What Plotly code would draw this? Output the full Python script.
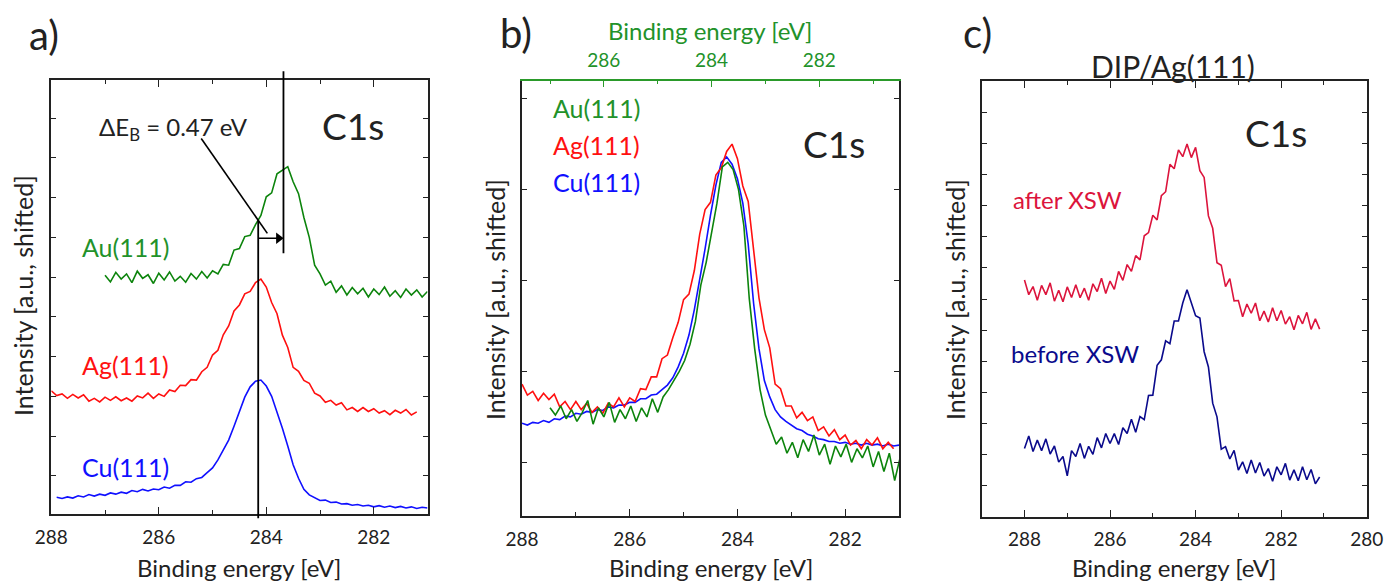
import numpy as np
import plotly.graph_objects as go

# ---------------- data ----------------
# panel a: binding-energy grids start values, step 0.1 eV (decreasing)
a_au_start = 287.0
a_au = [5.05, 4.88, 5.12, 4.95, 5.08, 4.86, 5.15, 4.97, 5.06, 4.84, 5.10, 4.93, 5.13, 4.90, 5.02,
        4.87, 5.09, 4.95, 5.14, 4.98, 5.16, 5.08, 5.32, 5.30, 5.68, 5.72, 6.02, 6.05, 6.32, 6.55,
        7.02, 7.12, 7.60, 7.70, 7.78, 7.40, 7.10, 6.50, 6.00, 5.30, 5.08, 4.80, 4.90, 4.62, 4.78,
        4.55, 4.74, 4.58, 4.72, 4.50, 4.70, 4.56, 4.75, 4.52, 4.66, 4.49, 4.70, 4.55, 4.68, 4.50, 4.64]
a_ag_start = 288.0
a_ag = [2.14, 2.02, 2.06, 1.95, 2.05, 1.96, 2.04, 1.88, 1.95, 1.86, 1.98, 1.90, 1.99, 1.89, 1.96,
        1.88, 2.01, 1.96, 2.08, 1.95, 2.06, 2.00, 2.16, 2.12, 2.28, 2.27, 2.42, 2.41, 2.62, 2.73,
        3.04, 3.16, 3.55, 3.77, 4.15, 4.30, 4.58, 4.64, 4.86, 4.95, 4.75, 4.36, 4.08, 3.54, 3.23,
        2.73, 2.63, 2.40, 2.33, 2.08, 2.01, 1.85, 1.90, 1.78, 1.84, 1.66, 1.72, 1.62, 1.72, 1.62,
        1.69, 1.58, 1.64, 1.54, 1.65, 1.58, 1.67, 1.53, 1.61]
a_cu_start = 287.9
a_cu = [-0.54, -0.57, -0.53, -0.56, -0.50, -0.53, -0.47, -0.51, -0.46, -0.49, -0.43, -0.46, -0.41,
        -0.44, -0.37, -0.40, -0.34, -0.38, -0.33, -0.35, -0.28, -0.31, -0.24, -0.24, -0.15, -0.16,
        -0.07, -0.04, 0.08, 0.20, 0.40, 0.64, 0.90, 1.25, 1.60, 1.98, 2.24, 2.38, 2.41, 2.26, 2.00,
        1.62, 1.20, 0.75, 0.28, -0.06, -0.34, -0.48, -0.55, -0.62, -0.61, -0.67, -0.66, -0.71,
        -0.70, -0.74, -0.72, -0.76, -0.74, -0.78, -0.75, -0.79, -0.76, -0.80, -0.77, -0.81, -0.78,
        -0.82, -0.79, -0.81]

# panel b (Au plotted against the shifted top axis)
b_cu_start = 288.0
b_cu = [0.43, 0.41, 0.44, 0.43, 0.46, 0.44, 0.48, 0.47, 0.51, 0.50, 0.54, 0.53, 0.56, 0.55, 0.58,
        0.57, 0.61, 0.60, 0.63, 0.63, 0.66, 0.66, 0.70, 0.70, 0.74, 0.75, 0.80, 0.85, 0.93, 1.05,
        1.20, 1.40, 1.68, 2.00, 2.35, 2.72, 3.05, 3.30, 3.36, 3.28, 3.12, 2.85, 2.40, 1.75, 1.25,
        0.90, 0.72, 0.58, 0.50, 0.45, 0.41, 0.37, 0.35, 0.31, 0.29, 0.26, 0.25, 0.23, 0.23, 0.21,
        0.22, 0.20, 0.21, 0.19, 0.21, 0.19, 0.20, 0.18, 0.20, 0.18, 0.19]
b_ag_start = 288.0
b_ag = [0.86, 0.74, 0.78, 0.68, 0.76, 0.69, 0.75, 0.61, 0.67, 0.58, 0.67, 0.58, 0.65, 0.55, 0.61,
        0.54, 0.65, 0.61, 0.71, 0.61, 0.71, 0.67, 0.81, 0.80, 0.94, 0.94, 1.14, 1.18, 1.37, 1.54,
        1.79, 1.85, 2.11, 2.51, 2.78, 2.86, 3.16, 3.24, 3.42, 3.50, 3.34, 3.04, 2.87, 2.30, 1.81,
        1.46, 1.26, 0.86, 0.81, 0.62, 0.62, 0.49, 0.55, 0.46, 0.50, 0.35, 0.39, 0.29, 0.36, 0.25,
        0.30, 0.19, 0.24, 0.15, 0.25, 0.19, 0.27, 0.15, 0.22, 0.15]
b_au_start = 287.0
b_au = [0.60, 0.52, 0.62, 0.48, 0.58, 0.45, 0.55, 0.68, 0.42, 0.60, 0.50, 0.66, 0.44, 0.58, 0.48,
        0.62, 0.45, 0.60, 0.50, 0.70, 0.55, 0.72, 0.80, 0.90, 1.00, 1.12, 1.30, 1.55, 1.95, 2.20,
        2.55, 2.85, 3.25, 3.30, 3.22, 3.00, 2.60, 1.80, 1.25, 0.80, 0.52, 0.35, 0.20, 0.28, 0.10,
        0.22, 0.05, 0.25, 0.12, 0.30, 0.08, 0.20, -0.02, 0.18, 0.06, 0.20, 0.00, 0.15, 0.05, 0.18,
        -0.05, 0.12, -0.10, 0.10, -0.20, 0.05]

# panel c
c_start = 288.0
c_after = [6.61, 6.14, 6.40, 5.96, 6.44, 6.14, 6.52, 5.93, 6.28, 5.91, 6.39, 6.05, 6.46, 6.04, 6.35,
           5.96, 6.49, 6.24, 6.67, 6.18, 6.58, 6.31, 6.89, 6.60, 7.11, 6.89, 7.40, 7.26, 8.04, 8.14,
           8.70, 8.55, 9.33, 9.46, 10.34, 10.20, 10.81, 10.59, 11.00, 10.56, 10.89, 10.14, 9.92,
           8.68, 8.28, 7.17, 7.09, 6.40, 6.66, 5.94, 5.95, 5.43, 5.84, 5.54, 5.87, 5.30, 5.61, 5.26,
           5.72, 5.30, 5.63, 5.19, 5.43, 5.01, 5.47, 5.20, 5.57, 5.02, 5.36, 5.03]
c_before = [1.18, 1.58, 1.08, 1.45, 1.11, 1.49, 1.00, 1.26, 0.74, 0.92, 0.30, 1.11, 0.92, 1.34, 0.86,
            1.25, 0.99, 1.53, 1.20, 1.66, 1.34, 1.66, 1.31, 1.85, 1.66, 2.12, 1.70, 2.21, 2.11, 2.89,
            2.90, 3.86, 4.04, 4.65, 4.56, 5.29, 5.29, 5.87, 6.30, 5.85, 5.46, 5.39, 4.30, 3.81, 2.64,
            2.20, 1.16, 1.24, 0.84, 1.12, 0.48, 0.75, 0.37, 0.81, 0.39, 0.73, 0.29, 0.53, 0.12, 0.59,
            0.33, 0.70, 0.16, 0.49, 0.14, 0.59, 0.17, 0.50, 0.04, 0.26]

peak_cu_ag = 284.15   # vertical reference line, panel a
peak_au = 283.68      # Au C1s peak, panel a
arrow_level = 5.98    # height of the ΔE arrow, panel a
au_shift = 0.48       # offset of the green top axis in panel b
step = 0.1


def grid(start, vals):
    return np.round(start - step * np.arange(len(vals)), 2)


# ---------------- style ----------------
FONT = "Lato"
GREEN = "#0c840c"
GREEN_T = "#22922a"
RED = "#ff1010"
BLUE = "#1010ff"
CRIMSON = "#dc143c"
NAVY = "#0a0a8c"
AX = "#222222"
W, H = 1384, 585


def px(x):
    return x / W


def py(y):
    return 1 - y / H


fig = go.Figure()
lw = 1.6
fig.add_trace(go.Scatter(x=grid(a_au_start, a_au), y=a_au, mode="lines", line=dict(color=GREEN, width=lw), xaxis="x", yaxis="y"))
fig.add_trace(go.Scatter(x=grid(a_ag_start, a_ag), y=a_ag, mode="lines", line=dict(color=RED, width=lw), xaxis="x", yaxis="y"))
fig.add_trace(go.Scatter(x=grid(a_cu_start, a_cu), y=a_cu, mode="lines", line=dict(color=BLUE, width=lw), xaxis="x", yaxis="y"))

fig.add_trace(go.Scatter(x=grid(b_cu_start, b_cu), y=b_cu, mode="lines", line=dict(color=BLUE, width=lw), xaxis="x2", yaxis="y2"))
fig.add_trace(go.Scatter(x=grid(b_ag_start, b_ag), y=b_ag, mode="lines", line=dict(color=RED, width=lw), xaxis="x2", yaxis="y2"))
fig.add_trace(go.Scatter(x=grid(b_au_start, b_au), y=b_au, mode="lines", line=dict(color=GREEN, width=lw), xaxis="x4", yaxis="y2"))

fig.add_trace(go.Scatter(x=grid(c_start, c_after), y=c_after, mode="lines", line=dict(color=CRIMSON, width=lw), xaxis="x3", yaxis="y3"))
fig.add_trace(go.Scatter(x=grid(c_start, c_before), y=c_before, mode="lines", line=dict(color=NAVY, width=lw), xaxis="x3", yaxis="y3"))

# ΔE arrow (shaft + triangular head) between the two peak positions (x axis is reversed)
fig.add_trace(go.Scatter(x=[peak_cu_ag, peak_au + 0.1], y=[arrow_level, arrow_level], mode="lines",
                         line=dict(color="black", width=1.6), xaxis="x", yaxis="y", hoverinfo="skip"))
fig.add_trace(go.Scatter(x=[peak_au + 0.09], y=[arrow_level], mode="markers",
                         marker=dict(symbol="triangle-right", size=10, color="black"),
                         xaxis="x", yaxis="y", hoverinfo="skip"))

TICKSIZE = 19


def xax(domain, rng, anchor, mirror="ticks", color=AX):
    return dict(domain=domain, range=rng, anchor=anchor, showline=True, linecolor=color, linewidth=1.6,
                mirror=mirror, ticks="inside", ticklen=7, tickwidth=1.4, tickcolor=color,
                tick0=280, dtick=2, showgrid=False, zeroline=False, automargin=False,
                minor=dict(ticks="inside", dtick=1, tick0=280, ticklen=4, tickwidth=1.4, tickcolor=color),
                tickfont=dict(family=FONT, size=TICKSIZE, color=AX), ticklabelstandoff=5)


def yax(domain, rng, anchor):
    return dict(domain=domain, range=rng, anchor=anchor, showline=True, linecolor=AX, linewidth=1.6,
                mirror="ticks", ticks="inside", ticklen=5, tickwidth=1.4, tickcolor=AX, automargin=False,
                tick0=0, dtick=1, showticklabels=False, showgrid=False, zeroline=False)


layout = dict(
    width=W, height=H, margin=dict(l=0, r=0, t=0, b=0, autoexpand=False), showlegend=False,
    plot_bgcolor="white", paper_bgcolor="white", font=dict(family=FONT, color=AX),
    xaxis=xax([px(51.3), px(427.5)], [288, 281], "y"),
    yaxis=yax([py(514), py(80)], [-0.96, 9.96], "x"),
    xaxis2=xax([px(522), px(899)], [288, 281], "y2", mirror=False),
    yaxis2=yax([py(516), py(80.5)], [-0.59, 4.2], "x2"),
    xaxis3=xax([px(981.7), px(1366.7)], [289, 280], "y3"),
    yaxis3=yax([py(516.7), py(81)], [-1.02, 13.03], "x3"),
)
x4 = xax([px(522), px(899)], [288 - au_shift, 281 - au_shift], "y2", mirror=False, color="#2a9a2a")
x4.update(overlaying="x2", side="top", tickfont=dict(family=FONT, size=TICKSIZE, color=GREEN_T), ticklabelstandoff=4)
layout["xaxis4"] = x4
fig.update_layout(**layout)

# vertical reference lines + pointer line (panel a)
fig.add_shape(type="line", xref="x", yref="y domain", x0=peak_cu_ag, x1=peak_cu_ag, y0=-0.01, y1=0.677,
              line=dict(color="black", width=1.8))
fig.add_shape(type="line", xref="x", yref="y domain", x0=peak_au, x1=peak_au, y0=0.601, y1=1.02,
              line=dict(color="black", width=1.8))
fig.add_shape(type="line", xref="x", yref="y", x0=285.21, y0=8.49, x1=283.98, y1=6.1,
              line=dict(color="black", width=1.6))

ann = []


def text(t, x, y, size, color=AX, xanchor="center", angle=0):
    ann.append(dict(text=t, x=px(x), y=py(y), xref="paper", yref="paper", showarrow=False,
                    xanchor=xanchor, yanchor="middle", textangle=angle,
                    font=dict(family=FONT, size=size, color=color)))


# panel letters
text("a)", 44, 35, 40)
text("b)", 516, 33, 40)
text("c)", 977, 33, 40)
# panel a
text("C1s", 353, 125, 37)
text("ΔE<sub>B</sub> = 0.47 eV", 173, 128, 24)
text("Au(111)", 125, 247, 25, GREEN_T)
text("Ag(111)", 125, 365, 25, RED)
text("Cu(111)", 125, 467, 25, BLUE)
# panel b
text("C1s", 834, 143, 37)
text("Au(111)", 596, 108, 25, GREEN_T)
text("Ag(111)", 596, 145, 25, RED)
text("Cu(111)", 596, 182, 25, BLUE)
text("Binding energy [eV]", 710, 30, 24, GREEN_T)
# panel c
text("DIP/Ag(111)", 1173, 66, 30)
text("C1s", 1276, 133, 37)
text("after XSW", 1067, 199, 24, CRIMSON)
text("before XSW", 1075, 353, 24, NAVY)
# axis titles
text("Binding energy [eV]", 239, 567, 24)
text("Binding energy [eV]", 711, 567, 24)
text("Binding energy [eV]", 1174, 567, 24)
text("Intensity [a.u., shifted]", 23, 296, 25, angle=-90)
text("Intensity [a.u., shifted]", 495, 300, 25, angle=-90)
text("Intensity [a.u., shifted]", 955, 300, 25, angle=-90)

for a in ann:
    fig.add_annotation(**a)

fig.write_html("out.html", config={"displayModeBar": False},
               post_script="document.body.style.margin='0px';document.body.style.overflow='hidden';")
